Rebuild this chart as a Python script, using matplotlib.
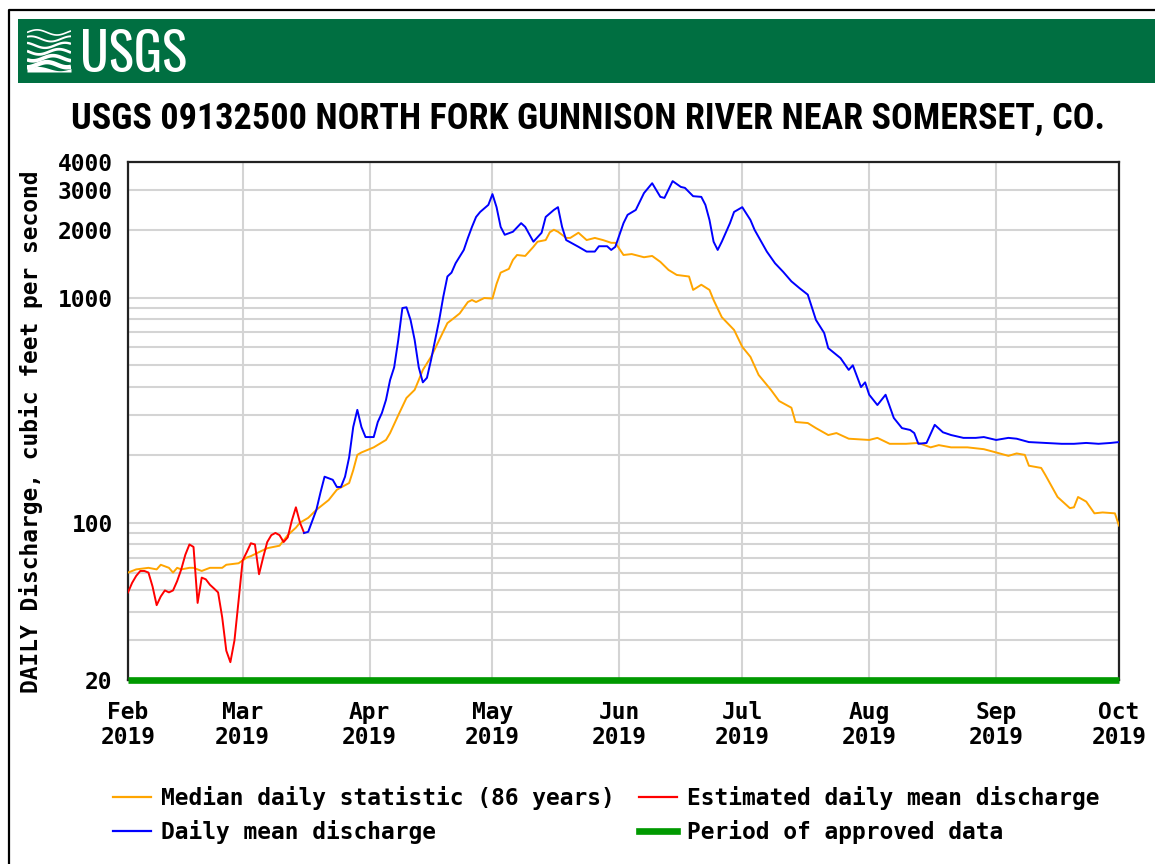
import matplotlib
matplotlib.use("Agg")
import matplotlib.pyplot as plt
import matplotlib.dates as mdates
from matplotlib.patches import Rectangle
from matplotlib.lines import Line2D
from matplotlib.font_manager import FontProperties
from matplotlib.transforms import Affine2D
import numpy as np

start = np.datetime64("2019-02-01")

red_cfs = [49, 54, 58, 61, 61, 60, 52, 43, 47, 50, 49, 50, 55, 62, 72, 80, 78, 44, 57, 56,
           53, 51, 49, 38, 27, 24, 30, 45, 68, 74, 81, 80, 59, 70, 82, 88, 90, 88, 82, 86,
           102, 117, 100, 90]
red_day = list(range(len(red_cfs)))

blue_day = [43, 44, 46, 47, 48, 50, 51, 52, 53, 54, 55, 56, 57, 58, 60, 61, 62, 63, 64, 65,
            66, 67, 68, 69, 70, 71, 72, 73, 74, 75, 76, 77, 78, 79, 80, 82, 83, 84, 85, 86,
            88, 89, 90, 91, 92, 94, 96, 97, 99, 101, 102, 104, 105, 106, 107, 110, 112, 114, 115, 117,
            118, 119, 121, 122, 124, 126, 128, 130, 131, 133, 135, 136, 138, 140, 141, 142, 143, 144, 145, 147,
            148, 150, 152, 153, 156, 158, 160, 162, 164, 166, 167, 168, 170, 171, 174, 176, 177, 179, 180, 181,
            183, 185, 187, 189, 191, 192, 193, 195, 197, 199, 201, 204, 207, 209, 212, 215, 217, 220, 224, 228,
            231, 234, 237, 240, 242]
blue_cfs = [90, 91, 114, 136, 160, 155, 144, 144, 160, 195, 266, 317, 266, 240, 240, 280, 307, 351, 430, 490,
            648, 898, 905, 795, 648, 490, 420, 440, 528, 648, 795, 1010, 1240, 1290, 1420, 1627, 1840, 2060, 2280, 2400,
            2580, 2880, 2520, 2060, 1900, 1960, 2140, 2060, 1770, 1940, 2280, 2450, 2520, 2060, 1800, 1680, 1600, 1600, 1690, 1690,
            1627, 1680, 2140, 2330, 2450, 2910, 3220, 2800, 2770, 3290, 3100, 3070, 2820, 2800, 2580, 2210, 1770, 1627, 1770, 2140,
            2400, 2520, 2210, 2000, 1600, 1420, 1300, 1180, 1100, 1030, 905, 795, 696, 596, 538, 477, 500, 400, 420, 370,
            333, 370, 292, 263, 258, 250, 224, 226, 272, 252, 245, 238, 238, 240, 233, 238, 236, 228, 226, 224,
            224, 226, 224, 226, 228]

orange_day = [0, 2, 5, 7, 8, 10, 11, 12, 13, 15, 16, 18, 20, 23, 24, 27, 29, 30, 32, 34,
              37, 39, 41, 42, 44, 46, 49, 51, 54, 55, 56, 57, 60, 63, 64, 66, 68, 70, 71, 72,
              74, 76, 78, 79, 81, 83, 84, 85, 87, 89, 90, 91, 93, 94, 95, 97, 99, 100, 102, 103,
              104, 105, 107, 108, 110, 112, 114, 116, 118, 119, 121, 123, 126, 128, 130, 132, 134, 137, 138, 140,
              142, 143, 145, 148, 150, 152, 154, 157, 159, 162, 163, 166, 168, 171, 173, 176, 181, 183, 186, 190,
              193, 196, 198, 201, 205, 209, 212, 215, 217, 219, 220, 223, 224, 227, 230, 231, 232, 234, 236, 238,
              241, 242]
orange_cfs = [60, 62, 63, 62, 65, 63, 60, 63, 62, 63, 63, 61, 63, 63, 65, 66, 70, 71, 74, 77,
              79, 88, 95, 100, 105, 114, 126, 140, 150, 171, 200, 205, 216, 233, 250, 300, 358, 389, 430, 477,
              545, 648, 770, 795, 850, 955, 975, 955, 995, 990, 1150, 1290, 1340, 1469, 1545, 1530, 1680, 1770, 1800, 1950,
              2000, 1960, 1840, 1840, 1940, 1800, 1840, 1800, 1750, 1750, 1545, 1560, 1510, 1530, 1440, 1326, 1260, 1240, 1081, 1140,
              1081, 975, 818, 718, 604, 545, 453, 389, 347, 324, 280, 277, 263, 245, 250, 236, 233, 238, 224, 224,
              226, 216, 221, 216, 216, 212, 205, 198, 203, 200, 179, 175, 163, 130, 116, 117, 130, 124, 110, 111,
              110, 97]

approved_days = [0, 242]
ytick_vals = [20, 100, 1000, 2000, 3000, 4000]
yminor_vals = [30, 40, 50, 60, 70, 80, 90, 200, 300, 400, 500, 600, 700, 800, 900]
title = "USGS 09132500 NORTH FORK GUNNISON RIVER NEAR SOMERSET, CO."
ylabel = "DAILY Discharge, cubic feet per second"
leg_labels = ["Median daily statistic (86 years)", "Daily mean discharge",
              "Estimated daily mean discharge", "Period of approved data"]


def to_dates(days):
    return start + np.array(days).astype("timedelta64[D]")


def fit_width(txt, fs, width):
    # rescale a text so it spans the same width as in the reference
    fig.canvas.draw()
    w = txt.get_window_extent().width
    txt.set_fontsize(fs * width / w)


W, H = 1155, 864
fig = plt.figure(figsize=(W / 100, H / 100), dpi=100)
pix = Affine2D().scale(1 / W, 1 / H) + fig.transFigure  # pixel coords, origin bottom-left

# frame + banner
fig.add_artist(Line2D([9, 9, W], [0, H - 10, H - 10], color="black", lw=1.6, transform=pix))
fig.add_artist(Rectangle((18, H - 83), W - 18, 64, color="#006f41", transform=pix, lw=0, zorder=-1))

# USGS wordmark
logo = fig.text(80 / W, 1 - 72 / H, "USGS", ha="left", va="baseline", color="white", fontsize=40,
                family=["Oswald", "Roboto Condensed", "DejaVu Sans"], weight="bold")
fit_width(logo, 40, 107)

# wave symbol
lax = fig.add_axes([27 / W, 1 - 72 / H, 44 / W, 43 / H])
lax.set_zorder(5)
lax.set_xlim(0, 1)
lax.set_ylim(0, 1)
lax.axis("off")
s = np.linspace(0, 1, 60)
for k, lw in enumerate([1.2, 1.4, 1.7, 2.0, 2.6, 3.2]):
    yy = 0.92 - k * 0.15 + 0.06 * np.sin(2 * np.pi * (s * 1.1 + 0.15 * k))
    lax.plot(s, yy, color="white", lw=lw, solid_capstyle="butt")
lax.fill_between(s, 0, 0.08 + 0.05 * np.sin(2 * np.pi * s), color="white", lw=0)

# title
tt = fig.text(588 / W, 1 - 119 / H, title, ha="center", va="center", fontsize=27,
              family=["Roboto Condensed", "DejaVu Sans"], weight="bold")
fit_width(tt, 27, 1030)

mono = dict(family="DejaVu Sans Mono", weight="bold", size=16.5)

ax = fig.add_axes([128 / W, 1 - 680 / H, 991 / W, 518 / H])
ax.set_yscale("log")
ax.set_ylim(20, 4000)
ax.set_xlim(to_dates([0])[0], to_dates([242])[0])

ax.plot(to_dates(orange_day), orange_cfs, color="#ffa500", lw=1.4, zorder=3)
ax.plot(to_dates(red_day), red_cfs, color="#ff0000", lw=1.4, zorder=4)
ax.plot(to_dates(blue_day), blue_cfs, color="#0000ff", lw=1.4, zorder=5)
ax.plot(to_dates(approved_days), [20, 20], color="#009900", lw=4.8, solid_capstyle="butt",
        clip_on=False, zorder=6)

ax.set_yticks(ytick_vals)
ax.set_yticklabels([str(v) for v in ytick_vals], fontdict=mono)
ax.set_yticks(yminor_vals, minor=True)
ax.yaxis.set_minor_formatter(plt.NullFormatter())
ax.xaxis.set_major_locator(mdates.MonthLocator())
ax.xaxis.set_major_formatter(mdates.DateFormatter("%b\n%Y"))
for lab in ax.get_xticklabels():
    lab.set(linespacing=1.12, **mono)
ax.tick_params(which="both", length=0)
ax.tick_params(axis="y", pad=11)
ax.tick_params(axis="x", pad=15)
ax.grid(which="both", color="#d4d4d4", lw=1.5)
ax.set_axisbelow(True)
for sp in ax.spines.values():
    sp.set_linewidth(1.6)
    sp.set_color("#222222")

ax.set_ylabel(ylabel, fontdict=mono)
ax.yaxis.set_label_coords(-0.086, 0.48)

handles = [Line2D([], [], color="#ffa500", lw=1.6), Line2D([], [], color="#0000ff", lw=1.6),
           Line2D([], [], color="#ff0000", lw=1.6), Line2D([], [], color="#009900", lw=4.8)]
fig.legend(handles, leg_labels, ncol=2, loc="upper left", bbox_to_anchor=(113 / W, 1 - 786 / H),
           frameon=False, prop=FontProperties(**mono), handlelength=1.66, handletextpad=0.44,
           columnspacing=1.05, labelspacing=0.42, borderpad=0, borderaxespad=0)

fig.savefig("out.png", dpi=100)
